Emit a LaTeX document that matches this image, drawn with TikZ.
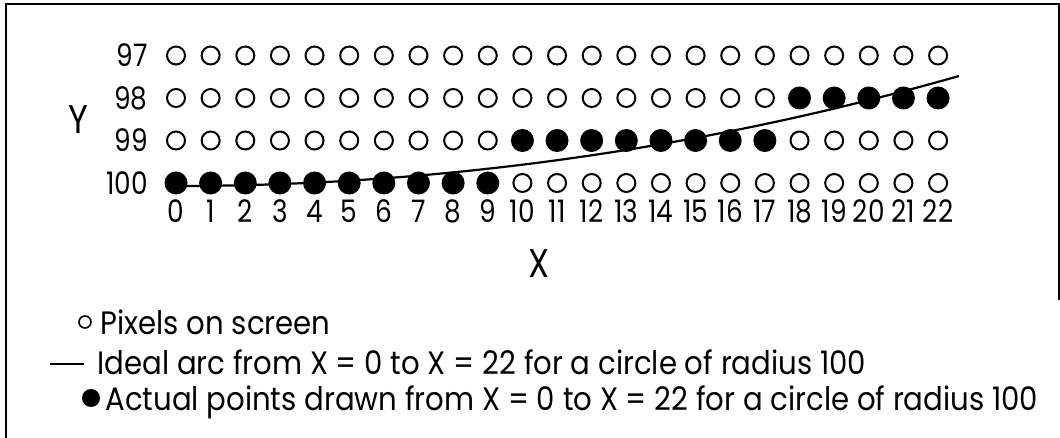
\documentclass[tikz,border=0pt]{standalone}
\usepackage{fontspec}
\setmainfont{Poppins}[FakeStretch=0.85]
\newfontfamily\keyfont{Poppins}[FakeStretch=0.9]
\usetikzlibrary{positioning}
\definecolor{ink}{HTML}{000000}
\tikzset{
  pix/.style={circle, draw=ink, line width=1pt, minimum size=9pt, inner sep=0pt},
  hit/.style={circle, fill=ink, minimum size=11.5pt, inner sep=0pt},
  lbl/.style={font=\fontsize{15.5}{18}\selectfont, inner sep=0pt, text=ink},
  keylbl/.style={font=\keyfont\fontsize{16.2}{19}\selectfont, inner sep=0pt, text=ink},
  axislbl/.style={font=\fontsize{20}{24}\selectfont, inner sep=0pt, text=ink},
  ideal/.style={line width=1.1pt, draw=ink},
  frame/.style={line width=1pt, draw=ink},
}
\def\colgap{34.64}
\def\rowgap{42.5}
\def\xzero{176}
\def\ytop{55.5}

\begin{document}
\begin{tikzpicture}[x=0.5pt, y=-0.5pt]
\useasboundingbox (0,0) rectangle (1060,438);

% Frame
\draw[frame] (6,438) -- (6,4) -- (1060,4);
\draw[frame] (1059,4) -- (1059,300);

% Pixel grid, rows 97 to 100
\foreach \r [count=\k from 0] in {97,98,99,100} {
  \node[lbl, anchor=east] (row\r) at (148, \ytop+\k*\rowgap) {\r};
  \foreach \c in {0,...,22} {
    \pgfmathtruncatemacro\hitrow{\c<10 ? 100 : (\c<18 ? 99 : 98)}
    \ifnum\hitrow=\r \def\pstyle{hit}\else\def\pstyle{pix}\fi
    \node[\pstyle] (p-\c-\r) at (\xzero+\c*\colgap, \ytop+\k*\rowgap) {};
  }
}

% Column numbers
\foreach \c in {0,...,22} {
  \node[lbl] (col\c) at (\xzero+\c*\colgap, 211) {\c};
}
\node[axislbl] (ylab) at (78,120) {Y};
\node[axislbl] (xlab) at (539,264) {X};

% Ideal arc
\draw[ideal] plot[domain=0:22.6, samples=60]
  ({\xzero+\x*\colgap}, {186-(100-sqrt(10000-\x*\x))*\rowgap});

% Legend
\node[pix, minimum size=6pt, line width=0.8pt] (keypix) at (85,322) {};
\node[keylbl, anchor=base west] (keypixtxt) at (100,335) {Pixels on screen};
\coordinate (keyl) at (50,364);
\coordinate (keyr) at (84,364);
\draw[ideal] (keyl) -- (keyr);
\node[keylbl, anchor=base west] (keyarctxt) at (97,374)
  {Ideal arc from X = 0 to X = 22 for a circle of radius 100};
\node[hit, minimum size=9pt] (keyhit) at (91,398) {};
\node[keylbl, anchor=base west] (keyhittxt) at (105,410)
  {Actual points drawn from X = 0 to X = 22 for a circle of radius 100};

\end{tikzpicture}
\end{document}
